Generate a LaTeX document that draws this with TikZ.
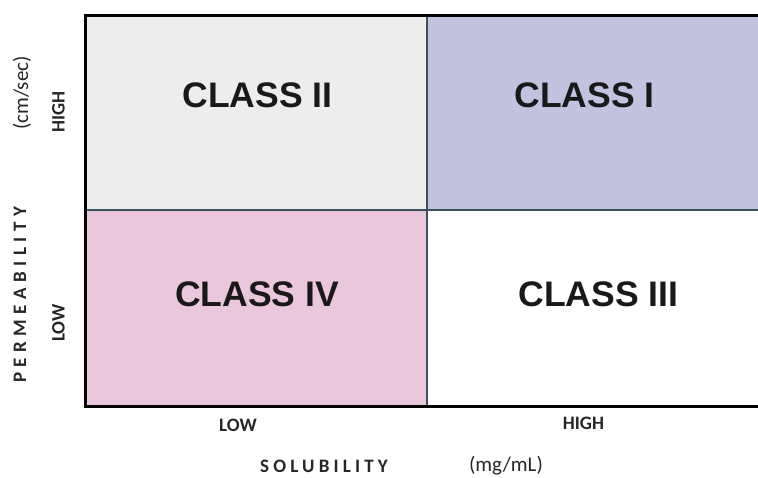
\documentclass[tikz,border=0pt]{standalone}
\usepackage{fontspec}
\setmainfont{Liberation Sans}
\newfontfamily\axisfont{Carlito}
\newfontfamily\axisfontsp[LetterSpace=22]{Carlito}
\newfontfamily\axisfontspp[LetterSpace=29]{Carlito}
\definecolor{cellgray}{HTML}{ECEDEC}
\definecolor{celllav}{HTML}{C3C3E0}
\definecolor{cellpink}{HTML}{EBC7DD}
\definecolor{gridline}{HTML}{3D5260}
\tikzset{
  classlbl/.style={font=\fontsize{35.5}{40}\selectfont\bfseries, anchor=base, inner sep=0pt, text=black!90},
  axislbl/.style={font=\axisfont\fontsize{19}{22}\selectfont\bfseries, inner sep=0pt, text=black!85},
  unitlbl/.style={font=\axisfont\fontsize{21}{25}\selectfont, inner sep=0pt, text=black!85},
  frameline/.style={line width=3pt, draw=black},
  innerline/.style={line width=1.8pt, draw=gridline}
}
\begin{document}
\begin{tikzpicture}[x=1pt,y=-1pt]
\useasboundingbox (0,0) rectangle (758,477);
% cells
\fill[cellgray] (85.5,15) rectangle (427,210);
\fill[celllav] (427,15) rectangle (758,210);
\fill[cellpink] (85.5,210) rectangle (427,406.5);
\fill[white] (427,210) rectangle (758,406.5);
% corner coordinates
\coordinate (tl) at (85.5,15);
\coordinate (tr) at (758,15);
\coordinate (bl) at (85.5,406.5);
\coordinate (br) at (758,406.5);
\coordinate (mt) at (427,15);
\coordinate (mb) at (427,406.5);
\coordinate (ml) at (85.5,210);
\coordinate (mr) at (758,210);
% grid
\draw[innerline] (mt) -- (mb);
\draw[innerline] (ml) -- (mr);
\draw[frameline, line cap=rect] (tr) -- (tl) -- (bl) -- (br);
% class labels
\node[classlbl] (c2) at (257.5,107) {CLASS II};
\node[classlbl] (c1) at (584.5,107) {CLASS I};
\node[classlbl] (c4) at (257,306) {CLASS IV};
\node[classlbl] (c3) at (598.5,306) {CLASS III};
% left axis
\node[unitlbl, rotate=90] (cms) at (22,93) {(cm/sec)};
\node[axislbl, rotate=90] (lhigh) at (58.5,112) {HIGH};
\node[axislbl, rotate=90] (llow) at (58.5,323) {LOW};
\node[axislbl, rotate=90, font=\axisfontspp\fontsize{19}{22}\selectfont\bfseries] (perm) at (20,295) {PERMEABILITY};
% bottom axis
\node[axislbl] (blow) at (238,425) {LOW};
\node[axislbl] (bhigh) at (583.5,423.5) {HIGH};
\node[axislbl, font=\axisfontsp\fontsize{19}{22}\selectfont\bfseries] (sol) at (324,466.5) {SOLUBILITY};
\node[unitlbl] (mgml) at (506,465.5) {(mg/mL)};
\end{tikzpicture}
\end{document}
